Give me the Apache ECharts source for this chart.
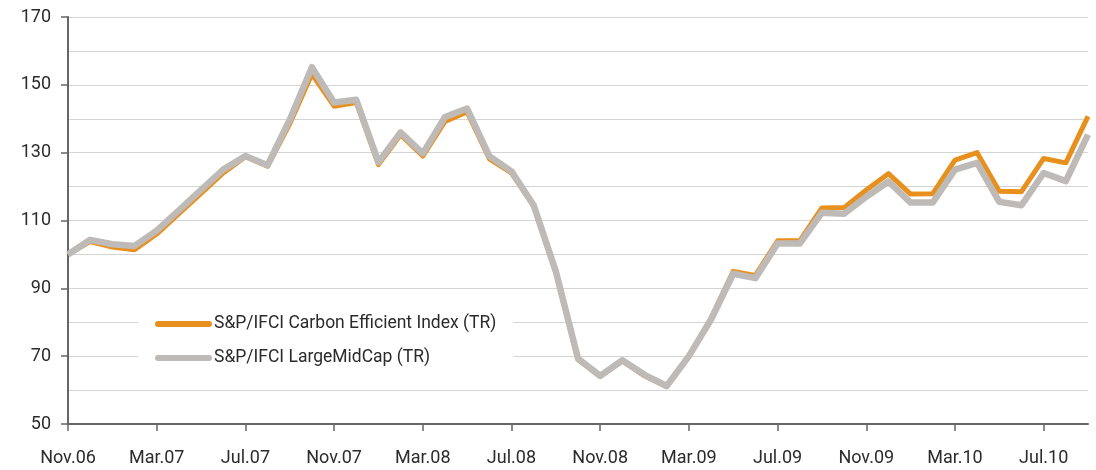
<!DOCTYPE html>
<html>
<head>
<meta charset="utf-8">
<script src="https://cdn.jsdelivr.net/npm/echarts@6/dist/echarts.min.js"></script>
<style>
html,body{margin:0;padding:0;background:#fff;}
#c{width:1096px;height:470px;}
</style>
</head>
<body>
<div id="c"></div>
<script>
const months = ['Nov.06','Dec.06','Jan.07','Feb.07','Mar.07','Apr.07','May.07','Jun.07','Jul.07','Aug.07','Sep.07','Oct.07',
'Nov.07','Dec.07','Jan.08','Feb.08','Mar.08','Apr.08','May.08','Jun.08','Jul.08','Aug.08','Sep.08','Oct.08',
'Nov.08','Dec.08','Jan.09','Feb.09','Mar.09','Apr.09','May.09','Jun.09','Jul.09','Aug.09','Sep.09','Oct.09',
'Nov.09','Dec.09','Jan.10','Feb.10','Mar.10','Apr.10','May.10','Jun.10','Jul.10','Aug.10','Sep.10'];

const carbonEfficient = [100,103.8,102.2,101.4,106,112,118,124,128.8,126,138.5,153.2,
143.7,144.8,126.5,135.3,129,139.2,142,128.2,124,114.3,94.7,69,
64,68.6,64.2,61,70,81.2,95,93.8,104,104,113.7,113.8,
119,123.8,117.8,117.9,127.8,130,118.6,118.5,128.3,127,140.7];

const largeMidCap = [100,104.3,103,102.5,107,113,119,125,129,126.3,139.7,155.2,
144.8,145.6,127.2,136,129.8,140.5,143,129,124.5,114.5,95,69.3,
64.2,68.8,64.5,61.2,70,80.8,94.3,93,103.2,103.2,112.3,112,
117,121.5,115.3,115.3,125,127,115.5,114.5,124,121.6,135.3];

const seriesNames = ['S&P/IFCI Carbon Efficient Index (TR)','S&P/IFCI LargeMidCap (TR)'];

const FONT = "Roboto,'Liberation Sans',sans-serif";
const chart = echarts.init(document.getElementById('c'));
const capsule = 'path://M3,0 H54 A3,3 0 0 1 54,6 H3 A3,3 0 0 1 3,0 Z';
chart.setOption({
  animation:false,
  backgroundColor:'#fff',
  grid:{left:68,right:8,top:17,bottom:46,containLabel:false},
  legend:{
    orient:'vertical',left:138,top:307,
    padding:[8,17,8,17],
    backgroundColor:'#fff',
    itemWidth:57,itemHeight:7,itemGap:16,
    textStyle:{fontFamily:FONT,fontSize:17.5,color:'#2b2b2b',padding:[0,0,0,-3]},
    data:[{name:seriesNames[0],icon:capsule},{name:seriesNames[1],icon:capsule}]
  },
  xAxis:{
    type:'category',data:months,boundaryGap:false,
    axisLine:{lineStyle:{color:'#666',width:2}},
    axisTick:{show:true,interval:3,length:7,lineStyle:{color:'#666',width:1.5}},
    axisLabel:{interval:3,margin:25,fontFamily:FONT,fontSize:18,color:'#2b2b2b'},
    splitLine:{show:false}
  },
  yAxis:{
    type:'value',min:50,max:170,interval:20,
    axisLine:{show:true,lineStyle:{color:'#666',width:2}},
    axisTick:{show:true,length:7,lineStyle:{color:'#666',width:1.5}},
    axisLabel:{margin:17,fontFamily:FONT,fontSize:18,color:'#2b2b2b'},
    splitLine:{show:true,lineStyle:{color:'#d4d4d4',width:1}},
    minorTick:{show:false,splitNumber:2},
    minorSplitLine:{show:true,lineStyle:{color:'#d4d4d4',width:1}}
  },
  series:[
    {name:seriesNames[0],type:'line',data:carbonEfficient,showSymbol:false,symbol:'none',
     lineStyle:{color:'#E8901E',width:5,join:'round'},itemStyle:{color:'#E8901E'},z:2},
    {name:seriesNames[1],type:'line',data:largeMidCap,showSymbol:false,symbol:'none',
     lineStyle:{color:'#BEBAB7',width:6.5,join:'round'},itemStyle:{color:'#BEBAB7'},z:3}
  ]
});
</script>
</body>
</html>
